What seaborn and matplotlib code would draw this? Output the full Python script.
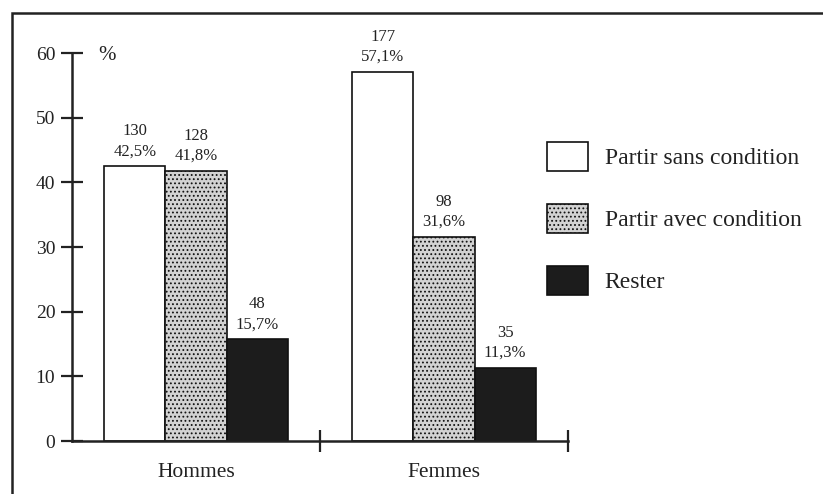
import matplotlib
matplotlib.use("Agg")
import matplotlib.pyplot as plt
import matplotlib.transforms as mtransforms
from matplotlib.patches import Rectangle
import seaborn as sns
import pandas as pd

groups = ["Hommes", "Femmes"]
responses = ["Partir sans condition", "Partir avec condition", "Rester"]
hommes_pct = [42.5, 41.8, 15.7]
hommes_n = [130, 128, 48]
femmes_pct = [57.1, 31.6, 11.3]
femmes_n = [177, 98, 35]
y_ticks = [0, 10, 20, 30, 40, 50, 60]

rows = []
for g, pcts, ns in [("Hommes", hommes_pct, hommes_n), ("Femmes", femmes_pct, femmes_n)]:
    for r, p, n in zip(responses, pcts, ns):
        rows.append({"groupe": g, "reponse": r, "pct": p, "n": n})
df = pd.DataFrame(rows)

sns.set_style("white")
plt.rcParams["font.family"] = ["Liberation Serif", "DejaVu Serif"]
plt.rcParams["hatch.linewidth"] = 0.8

fig = plt.figure(figsize=(8.23, 4.94), dpi=100)
ax = fig.add_axes([72 / 823, 1 - 441 / 494, (568 - 72) / 823, (441 - 53) / 494])

palette = {"Partir sans condition": "#ffffff", "Partir avec condition": "#d2d2d2", "Rester": "#1c1c1c"}
sns.barplot(data=df, x="groupe", y="pct", hue="reponse", order=groups, hue_order=responses,
            palette=palette, width=0.74, edgecolor="#111111", linewidth=1.2, saturation=1,
            ax=ax, legend=False)

# stipple on the gray bars
for p in ax.containers[1].patches:
    p.set_hatch("....")
    if hasattr(p, "set_hatchcolor"):
        p.set_hatchcolor("#8a8a8a")

# value labels
for ci, cont in enumerate(ax.containers):
    labs = []
    for gi, g in enumerate(groups):
        sub = df[(df.groupe == g) & (df.reponse == responses[ci])].iloc[0]
        labs.append(f"{int(sub.n)}\n{sub.pct:.1f}%".replace(".", ","))
    ax.bar_label(cont, labels=labs, padding=5, fontsize=12, color="#222222", linespacing=1.35)

ax.set_xlim(-0.5, 1.5)
ax.set_ylim(0, 60)
ax.set_yticks(y_ticks)
ax.set_xticks([0, 1])
ax.set_xticklabels(groups, fontsize=15.5, color="#222222")
ax.set_xticks([0.5, 1.5], minor=True)
ax.tick_params(axis="x", which="major", bottom=True, length=0, pad=16)
ax.tick_params(axis="x", which="minor", bottom=True, direction="inout", length=16, width=1.6,
               color="#222222")
ax.tick_params(axis="y", left=True, direction="inout", length=16, width=1.6, color="#222222",
               labelsize=14, labelcolor="#222222", pad=4)
ax.set_xlabel("")
ax.set_ylabel("")
for s in ["top", "right"]:
    ax.spines[s].set_visible(False)
for s in ["left", "bottom"]:
    ax.spines[s].set_linewidth(1.8)
    ax.spines[s].set_color("#222222")

trans = mtransforms.blended_transform_factory(ax.transAxes, ax.transData)
ax.text(0.07, 59.6, "%", transform=trans, fontsize=15, color="#222222", ha="center", va="center")

handles = [cont.patches[0] for cont in ax.containers]
leg = fig.legend(handles, responses, loc="upper left", bbox_to_anchor=(547 / 823, 1 - 142 / 494),
                 frameon=False, fontsize=17, handlelength=1.75, handleheight=1.5,
                 handletextpad=0.7, labelspacing=1.4, borderpad=0, borderaxespad=0)
for t in leg.get_texts():
    t.set_color("#222222")

# outer frame
fig.patches.append(Rectangle((12 / 823, -0.05), 1.2, 1 - 13 / 494 + 0.05, transform=fig.transFigure,
                             fill=False, edgecolor="#222222", linewidth=1.8))

fig.savefig("out.png", dpi=100)
